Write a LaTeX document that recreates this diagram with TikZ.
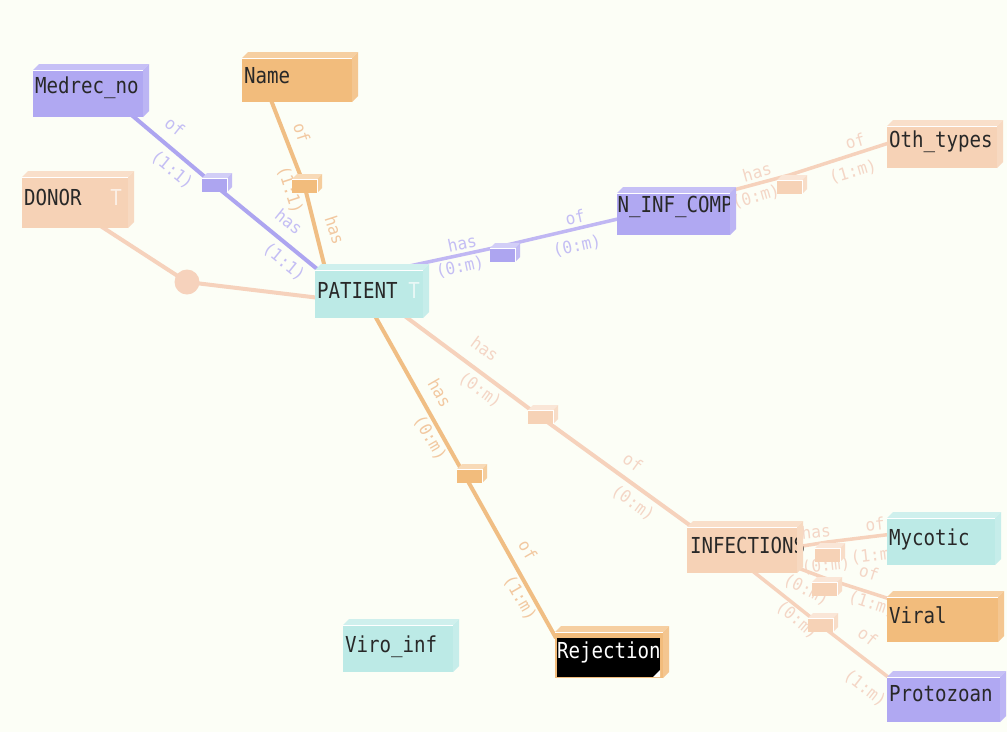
\documentclass[tikz,border=0pt]{standalone}
\usepackage{fontspec}
\newfontfamily\monofam[FakeStretch=0.87]{DejaVu Sans Mono}
\newfontfamily\labfam[FakeStretch=0.95]{DejaVu Sans Mono}
\newcommand\entfont{\monofam\fontsize{22}{24}\selectfont}
\newcommand\labfont{\labfam\fontsize{17}{19}\selectfont}

\definecolor{bgc}{RGB}{252,254,246}
\definecolor{txt}{RGB}{40,40,40}
% entity fills
\definecolor{purp}{RGB}{176,168,242}
\definecolor{orng}{RGB}{242,188,124}
\definecolor{pch}{RGB}{246,210,182}
\definecolor{cyan}{RGB}{188,234,230}
% connector colours
\definecolor{lnpur}{RGB}{173,165,240}
\definecolor{lnpur2}{RGB}{192,183,243}
\definecolor{lnorg}{RGB}{240,190,132}
\definecolor{lnpch}{RGB}{246,210,188}
% role / cardinality label colours
\definecolor{lbpur}{RGB}{196,190,244}
\definecolor{lborg}{RGB}{242,200,160}
\definecolor{lbpch}{RGB}{244,214,198}
\definecolor{tmarkd}{RGB}{252,240,230}
\definecolor{tmarkc}{RGB}{232,248,246}

\pgfdeclarelayer{under}
\pgfsetlayers{under,main}

% top and right faces of a raised box
\newcommand\faces[3]{%
  \fill[#2!72!white] (#1.north west) -- ++(#3,-#3) -- ([shift={(#3,-#3)}]#1.north east) -- (#1.north east) -- cycle;
  \fill[#2!85!white] (#1.north east) -- ([shift={(#3,-#3)}]#1.north east) -- ([shift={(#3,-#3)}]#1.south east) -- (#1.south east) -- cycle;
  \draw[white, line width=0.8pt] (#1.north west) -- (#1.north east);
}
% same, with paler faces, for the small relationship boxes
\newcommand\relfaces[2]{%
  \fill[#2!55!white] (#1.north west) -- ++(5,-5) -- ([shift={(5,-5)}]#1.north east) -- (#1.north east) -- cycle;
  \fill[#2!75!white] (#1.north east) -- ([shift={(5,-5)}]#1.north east) -- ([shift={(5,-5)}]#1.south east) -- (#1.south east) -- cycle;
  \draw[white, line width=0.6pt] (#1.north west) -- (#1.north east) -- (#1.south east);
}

\tikzset{
  ent/.style={fill=#1, anchor=north west, inner xsep=2pt, inner ysep=0pt, outer sep=0pt,
    align=left, font=\entfont, text=txt},
  rel/.style={fill=#1, anchor=north west, inner sep=0pt, outer sep=0pt,
    minimum width=25pt, minimum height=14pt},
  lab/.style={font=\labfont, text=#1, inner sep=0pt},
  link/.style={draw=#1, line width=4pt, line join=round},
  joint/.style={circle, fill=#1, inner sep=0pt, minimum size=25pt},
}

\begin{document}
\begin{tikzpicture}[x=1pt,y=-1pt]
\useasboundingbox (0,0) rectangle (1007,732);

% ---------- entities ----------
\node[ent=purp, text width=106pt, text height=23pt, text depth=24pt] (med) at (33,70) {Medrec\_no};
\faces{med}{purp}{6}
\node[ent=orng, text width=106pt, text height=25pt, text depth=19pt] (name) at (242,58) {Name};
\faces{name}{orng}{6}
\node[ent=pch, text width=102pt, text height=28pt, text depth=23pt] (donor) at (22,177)
  {DONOR\hskip0pt plus1filll{\color{tmarkd}T}\hspace*{4pt}};
\faces{donor}{pch}{6}
\node[ent=cyan, text width=104pt, text height=28pt, text depth=20pt] (pat) at (315,270)
  {PATIENT\hskip0pt plus1filll{\color{tmarkc}T}\hspace*{1pt}};
\faces{pat}{cyan}{6}
\node[ent=purp, inner xsep=0.5pt, text width=112pt, text height=19pt, text depth=23pt] (ninf) at (617,193) {N\_INF\_COMP};
\faces{ninf}{purp}{6}
\node[ent=pch, text width=106pt, text height=21pt, text depth=21pt] (oth) at (887,126) {Oth\_types};
\faces{oth}{pch}{6}
\node[ent=pch, inner xsep=3pt, text width=104pt, text height=26pt, text depth=20pt] (inf) at (687,527) {INFECTIONS};
\faces{inf}{pch}{6}
\node[ent=cyan, text width=104pt, text height=27pt, text depth=20pt] (myc) at (887,518) {Mycotic};
\faces{myc}{cyan}{6}
\node[ent=orng, text width=107pt, text height=26pt, text depth=19pt] (vir) at (887,597) {Viral};
\faces{vir}{orng}{6}
\node[ent=purp, text width=109pt, text height=24pt, text depth=21pt] (pro) at (887,677) {Protozoan};
\faces{pro}{purp}{6}
\node[ent=cyan, text width=106pt, text height=27pt, text depth=20pt] (viro) at (343,625) {Viro\_inf};
\faces{viro}{cyan}{6}
\node[ent=orng, text=white, text width=104pt, text height=26pt, text depth=20pt,
  path picture={
    \fill[black] ([shift={(2,6)}]path picture bounding box.north west) rectangle ([shift={(-3,-1)}]path picture bounding box.south east);
    \fill[white] ([shift={(-10,-1)}]path picture bounding box.south east) -- ([shift={(-3,-1)}]path picture bounding box.south east) -- ([shift={(-3,-8)}]path picture bounding box.south east) -- cycle;
  }] (rej) at (555,632) {Rejection};
\faces{rej}{orng}{6}

% ---------- relationship boxes ----------
\node[rel=lnpur] (rmed) at (202,178) {};   \relfaces{rmed}{lnpur}
\node[rel=orng] (rname) at (292,179) {};   \relfaces{rname}{orng}
\node[rel=lnpur] (rninf) at (490,248) {};  \relfaces{rninf}{lnpur}
\node[rel=pch] (roth) at (777,180) {};     \relfaces{roth}{pch}
\node[rel=pch] (rinf) at (528,410) {};     \relfaces{rinf}{pch}
\node[rel=orng] (rrej) at (457,469) {};    \relfaces{rrej}{orng}
\node[rel=pch] (rmyc) at (815,548) {};     \relfaces{rmyc}{pch}
\node[rel=pch] (rvir) at (812,582) {};     \relfaces{rvir}{pch}
\node[rel=pch] (rpro) at (808,618) {};     \relfaces{rpro}{pch}

\begin{pgfonlayer}{under}
\fill[bgc] (0,0) rectangle (1007,732);

% ---------- role and cardinality labels ----------
\node[lab=lbpur, rotate=-39] (l1) at (175,127) {of};
\node[lab=lbpur, rotate=-39] (l2) at (172,170) {(1:1)};
\node[lab=lbpur, rotate=-39] (l3) at (289,222) {has};
\node[lab=lbpur, rotate=-39] (l4) at (284,262) {(1:1)};

\node[lab=lborg, rotate=-72] (l5) at (302,133) {of};
\node[lab=lborg, rotate=-72] (l6) at (290,190) {(1:1)};
\node[lab=lborg, rotate=-72] (l7) at (335,230) {has};

\node[lab=lbpur, rotate=12] (l8) at (462,243) {has};
\node[lab=lbpur, rotate=12] (l9) at (460,267) {(0:m)};
\node[lab=lbpur, rotate=12] (l10) at (575,217) {of};
\node[lab=lbpur, rotate=12] (l11) at (577,246) {(0:m)};

\node[lab=lbpch, rotate=16] (l12) at (757,172) {has};
\node[lab=lbpch, rotate=16] (l13) at (756,197) {(0:m)};
\node[lab=lbpch, rotate=16] (l14) at (855,141) {of};
\node[lab=lbpch, rotate=16] (l15) at (853,172) {(1:m)};

\node[lab=lbpch, rotate=-36] (l16) at (485,349) {has};
\node[lab=lbpch, rotate=-36] (l17) at (480,390) {(0:m)};
\node[lab=lbpch, rotate=-36] (l18) at (633,462) {of};
\node[lab=lbpch, rotate=-36] (l19) at (633,503) {(0:m)};

\node[lab=lborg, rotate=-60] (l20) at (440,393) {has};
\node[lab=lborg, rotate=-60] (l21) at (430,438) {(0:m)};
\node[lab=lborg, rotate=-60] (l22) at (528,550) {of};
\node[lab=lborg, rotate=-60] (l23) at (520,598) {(1:m)};

\node[lab=lbpch, rotate=6] (l24) at (816,532) {has};
\node[lab=lbpch, rotate=6] (l25) at (826,566) {(0:m)};
\node[lab=lbpch, rotate=6] (l26) at (875,524) {of};
\node[lab=lbpch, rotate=6] (l27) at (875,556) {(1:m)};

\node[lab=lbpch, rotate=-28] (l29) at (806,590) {(0:m)};
\node[lab=lbpch, rotate=-18] (l30) at (869,572) {of};
\node[lab=lbpch, rotate=-18] (l31) at (872,604) {(1:m)};

\node[lab=lbpch, rotate=-40] (l33) at (797,620) {(0:m)};
\node[lab=lbpch, rotate=-38] (l34) at (868,636) {of};
\node[lab=lbpch, rotate=-38] (l35) at (865,688) {(1:m)};

% ---------- connectors ----------
\draw[link=lnpur] ([shift={(95,42)}]med.north west) -- (rmed.center) -- ([shift={(7,3)}]pat.north west);
\draw[link=lnorg] ([shift={(27,37)}]name.north west) -- (rname.center) -- ([shift={(11,2)}]pat.north west);
\node[joint=lnpch] (dj) at (187,282) {};
\draw[link=lnpch] ([shift={(77,48)}]donor.north west) -- (dj.center) -- ([shift={(5,28)}]pat.north west);
\draw[link=lnpur2, line width=3.5pt] ([shift={(85,-2)}]pat.north west) -- ([shift={(0,-2)}]rninf.north) -- ([shift={(5,25)}]ninf.north west);
\draw[link=lnpch, line width=3.5pt] ([shift={(109,-1)}]ninf.north west) -- ([shift={(0,-5)}]roth.north) -- ([shift={(5,16)}]oth.north west);
\draw[link=lnpch] ([shift={(87,44)}]pat.north west) -- (rinf.center) -- ([shift={(8,2)}]inf.north west);
\draw[link=lnorg] ([shift={(60,46)}]pat.north west) -- ([shift={(0,8)}]rrej.center) -- ([shift={(1,6)}]rej.north west);
\draw[link=lnpch, line width=3.5pt] ([shift={(103,21)}]inf.north west) -- ([shift={(0,-6)}]rmyc.north) -- ([shift={(6,16)}]myc.north west);
\draw[link=lnpch, line width=3.5pt] ([shift={(103,38)}]inf.north west) -- ([shift={(0,-4)}]rvir.north) -- ([shift={(6,3)}]vir.north west);
\draw[link=lnpch, line width=3.5pt] ([shift={(63,42)}]inf.north west) -- (rpro.center) -- ([shift={(5,3)}]pro.north west);
\end{pgfonlayer}
\end{tikzpicture}
\end{document}
